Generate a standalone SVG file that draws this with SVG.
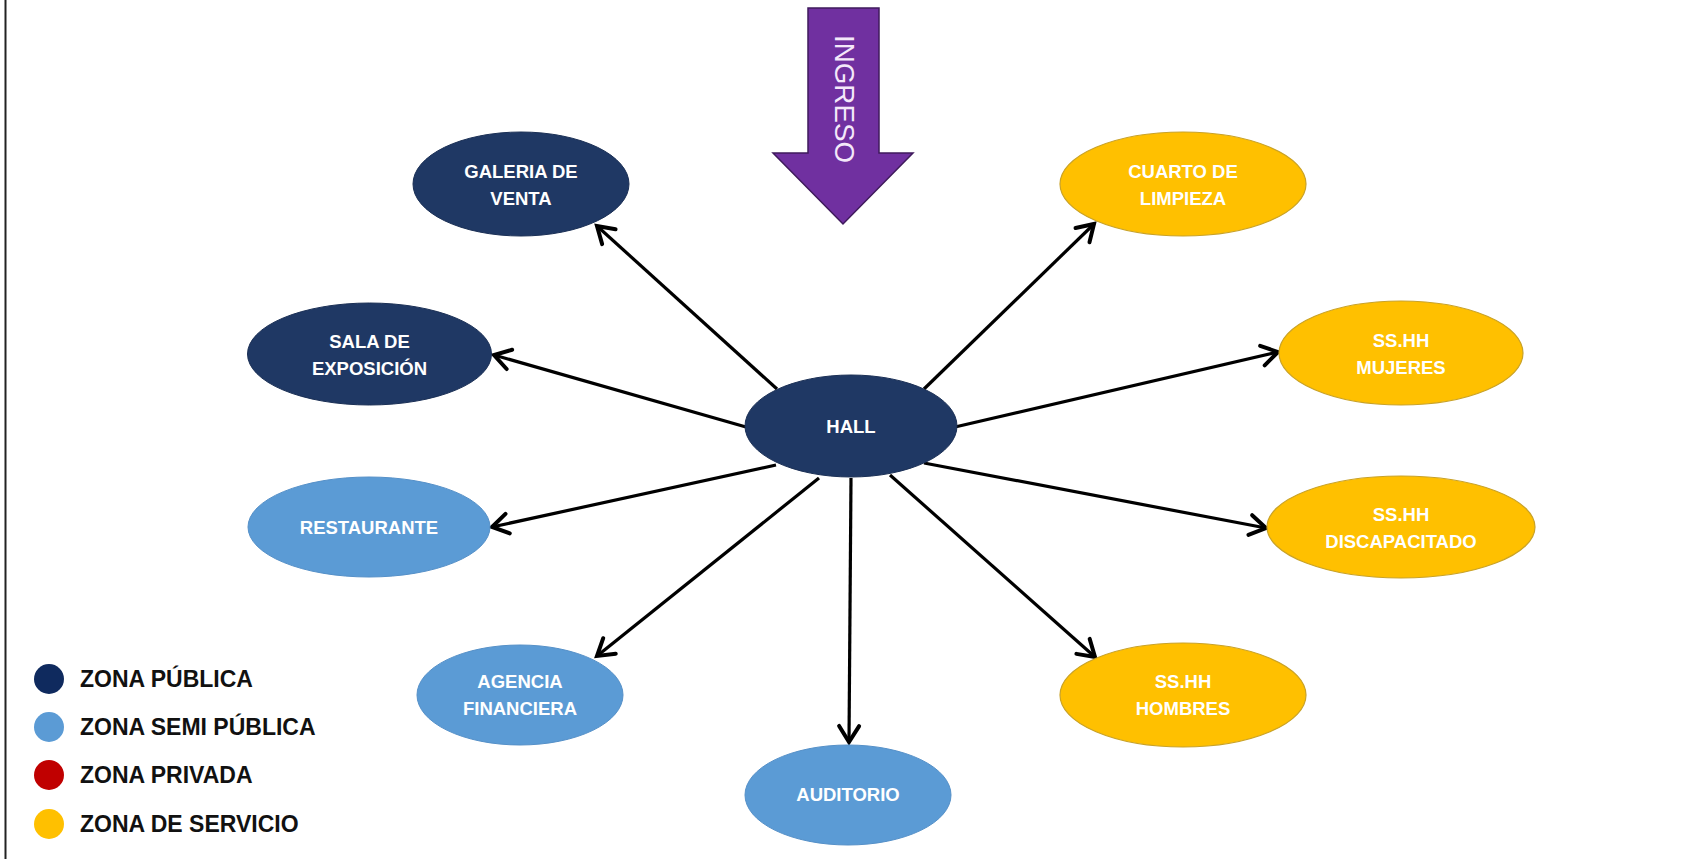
<svg xmlns="http://www.w3.org/2000/svg" width="1689" height="859" viewBox="0 0 1689 859">
  <style>
    .lbl { font-family: "Liberation Sans", Arial, sans-serif; font-weight: bold; font-size: 18.5px; fill: #FFFFFF; text-anchor: middle; }
    .leg { font-family: "Liberation Sans", Arial, sans-serif; font-weight: bold; font-size: 23px; fill: #111111; }
    .pub { fill: #1F3864; stroke: #1A2F55; stroke-width: 1; }
    .semi { fill: #5B9BD5; stroke: #5590C8; stroke-width: 1; }
    .serv { fill: #FFC000; stroke: #C9A227; stroke-width: 1.2; }
    .conn { stroke: #000000; stroke-width: 3.2; fill: none; marker-end: url(#arr); }
  </style>
  <defs>
    <marker id="arr" markerUnits="userSpaceOnUse" viewBox="-20 -13 24 26" markerWidth="24" markerHeight="26" refX="0" refY="0" orient="auto">
      <path d="M-16,-10 L0,0 L-16,10" fill="none" stroke="#000" stroke-width="4" stroke-linecap="round" stroke-linejoin="miter"/>
    </marker>
  </defs>
  <rect x="0" y="0" width="1689" height="859" fill="#FFFFFF"/>
  <line x1="5.5" y1="0" x2="5.5" y2="859" stroke="#222222" stroke-width="2"/>

  <g id="ingreso">
    <path d="M808,8 L879,8 L879,153 L913,153 L843,224 L773,153 L808,153 Z" fill="#7030A0" stroke="#3F1A5C" stroke-width="1.5"/>
    <text transform="translate(835,99) rotate(90)" font-family="Liberation Sans, Arial, sans-serif" font-size="28" fill="#F4E8FA" text-anchor="middle" textLength="128" lengthAdjust="spacingAndGlyphs">INGRESO</text>
  </g>

  <g id="connectors">
    <line class="conn" x1="777" y1="389" x2="597" y2="226"/>
    <line class="conn" x1="746" y1="427" x2="494" y2="355"/>
    <line class="conn" x1="776" y1="465" x2="492" y2="527"/>
    <line class="conn" x1="819" y1="478" x2="597" y2="656"/>
    <line class="conn" x1="851" y1="478" x2="849" y2="742"/>
    <line class="conn" x1="890" y1="475" x2="1095" y2="657"/>
    <line class="conn" x1="924" y1="463" x2="1266" y2="528"/>
    <line class="conn" x1="955" y1="427" x2="1278" y2="352"/>
    <line class="conn" x1="924" y1="389" x2="1094" y2="224"/>
  </g>

  <g id="hall">
    <ellipse class="pub" cx="851" cy="426" rx="106" ry="51"/>
    <text class="lbl" x="851" y="433">HALL</text>
  </g>
  <g id="galeria">
    <ellipse class="pub" cx="521" cy="184" rx="108" ry="52"/>
    <text class="lbl" x="521" y="178">GALERIA DE</text>
    <text class="lbl" x="521" y="205">VENTA</text>
  </g>
  <g id="sala">
    <ellipse class="pub" cx="369.5" cy="354" rx="122" ry="51"/>
    <text class="lbl" x="369.5" y="348">SALA DE</text>
    <text class="lbl" x="369.5" y="375">EXPOSICIÓN</text>
  </g>
  <g id="restaurante">
    <ellipse class="semi" cx="369" cy="527" rx="121" ry="50"/>
    <text class="lbl" x="369" y="534">RESTAURANTE</text>
  </g>
  <g id="agencia">
    <ellipse class="semi" cx="520" cy="695" rx="103" ry="50"/>
    <text class="lbl" x="520" y="688">AGENCIA</text>
    <text class="lbl" x="520" y="715">FINANCIERA</text>
  </g>
  <g id="auditorio">
    <ellipse class="semi" cx="848" cy="795" rx="103" ry="50"/>
    <text class="lbl" x="848" y="801">AUDITORIO</text>
  </g>
  <g id="cuarto">
    <ellipse class="serv" cx="1183" cy="184" rx="123" ry="52"/>
    <text class="lbl" x="1183" y="178">CUARTO DE</text>
    <text class="lbl" x="1183" y="205">LIMPIEZA</text>
  </g>
  <g id="mujeres">
    <ellipse class="serv" cx="1401" cy="353" rx="122" ry="52"/>
    <text class="lbl" x="1401" y="347">SS.HH</text>
    <text class="lbl" x="1401" y="374">MUJERES</text>
  </g>
  <g id="discapacitado">
    <ellipse class="serv" cx="1401" cy="527" rx="134" ry="51"/>
    <text class="lbl" x="1401" y="521">SS.HH</text>
    <text class="lbl" x="1401" y="548">DISCAPACITADO</text>
  </g>
  <g id="hombres">
    <ellipse class="serv" cx="1183" cy="695" rx="123" ry="52"/>
    <text class="lbl" x="1183" y="688">SS.HH</text>
    <text class="lbl" x="1183" y="715">HOMBRES</text>
  </g>

  <g id="legend">
    <circle cx="49" cy="679" r="15" fill="#0F2A5E"/>
    <text class="leg" x="80" y="687">ZONA PÚBLICA</text>
    <circle cx="49" cy="727" r="15" fill="#5B9BD5"/>
    <text class="leg" x="80" y="735">ZONA SEMI PÚBLICA</text>
    <circle cx="49" cy="775" r="15" fill="#C00000"/>
    <text class="leg" x="80" y="783">ZONA PRIVADA</text>
    <circle cx="49" cy="824" r="15" fill="#FFC000"/>
    <text class="leg" x="80" y="832">ZONA DE SERVICIO</text>
  </g>
</svg>
